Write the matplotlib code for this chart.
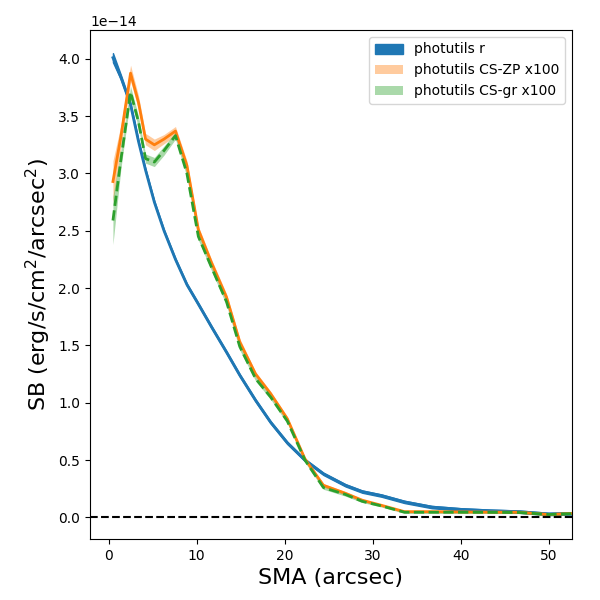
import matplotlib
matplotlib.use('Agg')
import matplotlib.pyplot as plt
import numpy as np

# SMA grid (arcsec)
sma = np.array([0.5, 1.4, 2.5, 3.4, 4.2, 5.2, 6.3, 7.6, 8.9, 10.2, 11.7, 13.4, 14.9,
                16.7, 18.4, 20.3, 22.3, 24.4, 26.9, 28.8, 31.0, 33.6, 36.7, 40.0,
                43.3, 46.6, 50.0, 52.6])

# surface brightness, units of 1e-14
sb_r = np.array([4.01, 3.84, 3.60, 3.28, 3.03, 2.75, 2.50, 2.25, 2.03, 1.86, 1.66, 1.44, 1.24,
                 1.02, 0.83, 0.65, 0.50, 0.38, 0.28, 0.225, 0.19, 0.135, 0.09, 0.07,
                 0.058, 0.05, 0.03, 0.035])
err_r = np.array([0.04, 0.02, 0.015, 0.01, 0.01, 0.01, 0.01, 0.01, 0.01, 0.01, 0.01, 0.01, 0.01,
                  0.01, 0.01, 0.01, 0.01, 0.01, 0.01, 0.01, 0.01, 0.01, 0.01, 0.01,
                  0.01, 0.01, 0.01, 0.01])

sb_zp = np.array([2.93, 3.32, 3.875, 3.62, 3.30, 3.25, 3.30, 3.37, 3.07, 2.51, 2.22, 1.92, 1.53,
                  1.25, 1.08, 0.86, 0.51, 0.28, 0.21, 0.15, 0.105, 0.05, 0.05, 0.048,
                  0.046, 0.045, 0.025, 0.035])
err_zp = np.array([0.18, 0.10, 0.07, 0.06, 0.05, 0.05, 0.04, 0.04, 0.04, 0.03, 0.03, 0.03, 0.03,
                   0.02, 0.02, 0.02, 0.02, 0.015, 0.015, 0.01, 0.01, 0.01, 0.01, 0.01,
                   0.01, 0.01, 0.01, 0.01])

sb_gr = np.array([2.59, 3.12, 3.71, 3.45, 3.13, 3.10, 3.20, 3.33, 3.00, 2.45, 2.18, 1.88, 1.49,
                  1.21, 1.05, 0.84, 0.50, 0.26, 0.20, 0.14, 0.10, 0.045, 0.045, 0.045,
                  0.044, 0.043, 0.025, 0.033])
err_gr = np.array([0.21, 0.08, 0.05, 0.05, 0.04, 0.04, 0.04, 0.03, 0.03, 0.03, 0.03, 0.03, 0.03,
                   0.02, 0.02, 0.02, 0.02, 0.015, 0.015, 0.01, 0.01, 0.01, 0.01, 0.01,
                   0.01, 0.01, 0.01, 0.01])

scale = 1e-14

fig = plt.figure(figsize=(6, 6), dpi=100)
fig.subplots_adjust(left=0.15, right=0.953, bottom=0.102, top=0.95)
ax = fig.add_subplot(111)

ax.fill_between(sma, (sb_r - err_r) * scale, (sb_r + err_r) * scale, color='tab:blue', label='photutils r')
ax.plot(sma, sb_r * scale, color='tab:blue', lw=2)

ax.fill_between(sma, (sb_zp - err_zp) * scale, (sb_zp + err_zp) * scale, color='tab:orange', alpha=0.4,
                lw=0, label='photutils CS-ZP x100')
ax.plot(sma, sb_zp * scale, color='tab:orange', lw=2)

ax.fill_between(sma, (sb_gr - err_gr) * scale, (sb_gr + err_gr) * scale, color='tab:green', alpha=0.4,
                lw=0, label='photutils CS-gr x100')
ax.plot(sma, sb_gr * scale, color='tab:green', lw=2, ls='--')

ax.axhline(0, color='k', ls='--')
ax.set_xlim(right=sma.max())
ax.set_xlabel('SMA (arcsec)', fontsize=16)
ax.set_ylabel('SB (erg/s/cm$^2$/arcsec$^2$)', fontsize=16)
ax.legend(loc='upper right')

plt.savefig('out.png')
